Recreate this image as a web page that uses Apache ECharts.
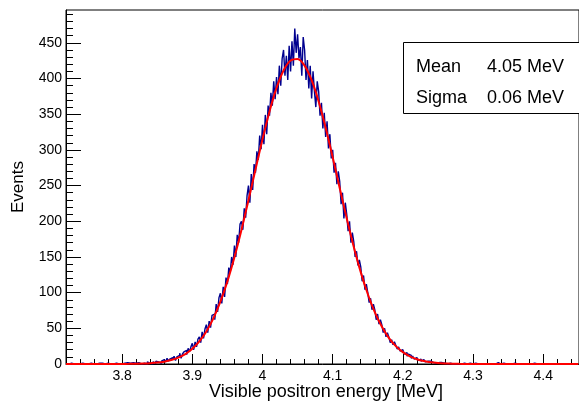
<!DOCTYPE html>
<html>
<head>
<meta charset="utf-8">
<script src="https://cdn.jsdelivr.net/npm/echarts@6/dist/echarts.min.js"></script>
<style>html,body{margin:0;padding:0;background:#fff}#c{width:579px;height:403px}</style>
</head>
<body>
<div id="c"></div>
<script>
// Histogram: bins of width 0.002 MeV starting at 3.720 MeV
var binStart = 3.72;
var binWidth = 0.002;
var histCounts = [
0,0,0,1,0, 0,0,0,0,0, 0,1,0,0,2, 0,0,1,0,0, 0,0,0,1,0,
1,0,0,0,1, 0,0,2,0,0, 1,0,0,1,0, 0,1,0,2,0, 1,0,2,0,1,
0,2,1,0,2, 1,2,0,3,1, 2,0,3,1,4, 3,5,1,4,6, 6,3,8,4,7,
9,6,11,5,10, 12,15,8,14,17, 19,13,22,17,24, 29,20,31,24,35, 38,30,45,36,49,
55,44,60,51,68, 70,62,84,73,93, 99,85,108,94,121, 112,135,128,150,139, 166,150,181,170,196,
200,188,218,205,236, 250,226,266,244,280, 268,298,286,320,301, 335,308,349,322,362, 348,380,362,396,371,
402,378,418,390,428, 440,404,432,398,446, 410,452,418,470,436, 462,428,444,404,458, 440,398,426,386,418,
372,410,382,360,396, 382,348,366,330,352, 318,340,302,322,288, 300,268,282,252,270, 256,224,240,204,226,
210,186,200,170,184, 172,150,158,138,146, 136,116,124,104,112, 100,86,92,76,84, 76,62,70,56,62,
55,44,50,38,44, 38,30,34,27,31, 26,21,24,18,20, 18,14,16,11,14, 12,8,11,7,9,
8,5,7,4,6, 5,3,4,2,4, 3,2,3,1,3, 2,1,2,1,1, 1,0,2,1,0,
0,1,0,2,0, 1,0,0,1,0, 0,0,1,0,0, 0,1,0,0,0, 0,0,0,1,0,
1,0,0,0,0, 0,0,2,0,0, 0,1,0,0,0, 0,0,0,0,1, 0,0,0,0,0,
0,1,0,0,0, 0,0,0,1,0, 0,0,0,0,0, 1,0,0,0,0, 0,0,0,0,0,
0,0,1,0,0, 0,0,0,0,0, 0,0,0,0,0
];
// Fit curve, read at every 0.01 MeV starting at 3.72 MeV
var fitStart = 3.72;
var fitStep = 0.01;
var fitValues = [
0,0,0,0,0,0,0,0.05,0.09,0.18,
0.33,0.6,1.1,1.95,3.3,5.5,8.9,13.9,21.3,31.6,
45.6,63.9,87.3,115.8,149.6,187.9,229.5,272.5,314.9,353.9,
386.8,411.2,425.1,427.5,418.1,397.6,367.9,331.1,289.8,246.6,
204.2,164.4,128.7,98.1,72.7,52.4,36.7,25.0,16.6,10.7,
6.7,4.1,2.4,1.4,0.8,0.4,0.2,0.1,
0,0,0,0,0,0,0,0,0,0,0,0,0,0,0,0
];
var xTickLabels = [3.8, 3.9, 4.0, 4.1, 4.2, 4.3, 4.4];
var yTickLabels = [0, 50, 100, 150, 200, 250, 300, 350, 400, 450];
var statsRows = [["Mean", "4.05 MeV"], ["Sigma", "0.06 MeV"]];

var FONT = '"Liberation Sans", Arial, Helvetica, sans-serif';
var xMin = 3.72, xMax = 4.451, yMin = 0, yMax = 496;

var histData = histCounts.map(function (v, i) {
  return [+(binStart + binWidth * (i + 0.5)).toFixed(4), v];
});
var fitData = fitValues.map(function (v, i) {
  return [+(fitStart + fitStep * i).toFixed(3), v];
});
var xMinor = [];
for (var k = 0; k <= 40; k++) { var t = +(3.72 + 0.02 * k).toFixed(2); if (t <= 4.45) xMinor.push(t); }
var yMinor = [];
for (var j = 0; j <= 49; j++) yMinor.push(j * 10);

var chart = echarts.init(document.getElementById('c'), null, {renderer: 'canvas'});
var axisLineStyle = {show: true, lineStyle: {color: '#000', width: 1}};
chart.setOption({
  animation: false,
  backgroundColor: '#fff',
  grid: {left: 66, top: 10, right: -1, bottom: 39, show: true, borderColor: '#000', borderWidth: 1, backgroundColor: 'transparent'},
  xAxis: [{
    type: 'value', min: xMin, max: xMax, position: 'bottom',
    axisLine: axisLineStyle, splitLine: {show: false},
    axisTick: {show: true, inside: true, length: 10, customValues: xTickLabels, lineStyle: {color: '#000'}},
    axisLabel: {customValues: xTickLabels, margin: 5, color: '#000', fontFamily: FONT, fontSize: 14,
      formatter: function (v) { return (Math.round(v * 10) / 10).toString(); }}
  }, {
    type: 'value', min: xMin, max: xMax, position: 'bottom',
    axisLine: {show: false}, splitLine: {show: false},
    axisTick: {show: true, inside: true, length: 5, customValues: xMinor, lineStyle: {color: '#000'}},
    axisLabel: {show: false}
  }],
  yAxis: [{
    type: 'value', min: yMin, max: yMax, position: 'left',
    axisLine: axisLineStyle, splitLine: {show: false},
    axisTick: {show: true, inside: true, length: 15, customValues: yTickLabels, lineStyle: {color: '#000'}},
    axisLabel: {customValues: yTickLabels, margin: 4, color: '#000', fontFamily: FONT, fontSize: 14}
  }, {
    type: 'value', min: yMin, max: yMax, position: 'left',
    axisLine: {show: false}, splitLine: {show: false},
    axisTick: {show: true, inside: true, length: 7, customValues: yMinor, lineStyle: {color: '#000'}},
    axisLabel: {show: false}
  }],
  series: [{
    type: 'line', xAxisIndex: 0, yAxisIndex: 0, data: histData, step: 'middle',
    showSymbol: false, symbol: 'none', lineStyle: {color: '#00008f', width: 1.4}, z: 3
  }, {
    type: 'line', xAxisIndex: 0, yAxisIndex: 0, data: fitData, smooth: 0.3,
    showSymbol: false, symbol: 'none', lineStyle: {color: '#ff0000', width: 2}, z: 4
  }],
  graphic: [
    {type: 'rect', shape: {x: 403.5, y: 42.5, width: 190, height: 71}, style: {fill: '#fff', stroke: '#000', lineWidth: 1}, z: 100},
    {type: 'text', x: 416, y: 67, style: {text: statsRows[0][0], font: '18px ' + FONT, fill: '#000', textVerticalAlign: 'middle'}, z: 101},
    {type: 'text', x: 487, y: 67, style: {text: statsRows[0][1], font: '18px ' + FONT, fill: '#000', textVerticalAlign: 'middle'}, z: 101},
    {type: 'text', x: 416, y: 98, style: {text: statsRows[1][0], font: '18px ' + FONT, fill: '#000', textVerticalAlign: 'middle'}, z: 101},
    {type: 'text', x: 487, y: 98, style: {text: statsRows[1][1], font: '18px ' + FONT, fill: '#000', textVerticalAlign: 'middle'}, z: 101},
    {type: 'text', x: 326, y: 392, style: {text: 'Visible positron energy [MeV]', font: '18px ' + FONT, fill: '#000', textAlign: 'center', textVerticalAlign: 'middle'}, z: 101},
    {type: 'text', x: 18, y: 187, rotation: Math.PI / 2, style: {text: 'Events', font: '17px ' + FONT, fill: '#000', textAlign: 'center', textVerticalAlign: 'middle'}, z: 101}
  ]
});
</script>
</body>
</html>
